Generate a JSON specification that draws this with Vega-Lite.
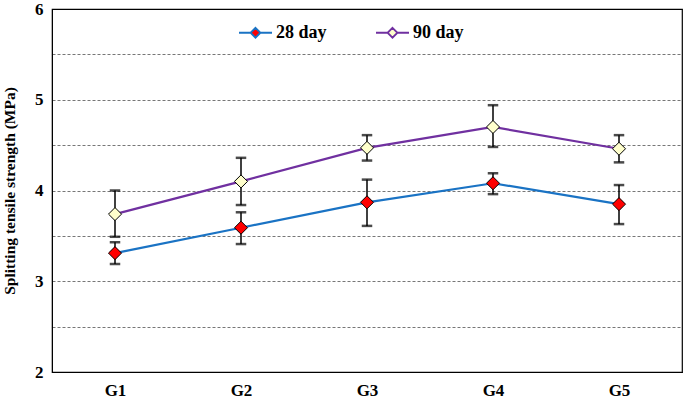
{
  "$schema": "https://vega.github.io/schema/vega-lite/v6.json",
  "width": 630,
  "height": 363,
  "autosize": {"type": "none"},
  "padding": {"left": 52, "top": 9, "right": 3, "bottom": 29},
  "background": "white",
  "config": {
    "view": {"stroke": "#000", "strokeWidth": 1.2},
    "font": "Times New Roman, Liberation Serif, serif"
  },
  "data": {
    "values": [
      {"group": "G1", "series": "28 day", "mean": 3.31, "lo": 3.19, "hi": 3.43},
      {"group": "G2", "series": "28 day", "mean": 3.59, "lo": 3.41, "hi": 3.76},
      {"group": "G3", "series": "28 day", "mean": 3.87, "lo": 3.61, "hi": 4.12},
      {"group": "G4", "series": "28 day", "mean": 4.08, "lo": 3.96, "hi": 4.19},
      {"group": "G5", "series": "28 day", "mean": 3.85, "lo": 3.63, "hi": 4.06},
      {"group": "G1", "series": "90 day", "mean": 3.74, "lo": 3.49, "hi": 4.0},
      {"group": "G2", "series": "90 day", "mean": 4.10, "lo": 3.84, "hi": 4.36},
      {"group": "G3", "series": "90 day", "mean": 4.47, "lo": 4.33, "hi": 4.61},
      {"group": "G4", "series": "90 day", "mean": 4.70, "lo": 4.48, "hi": 4.94},
      {"group": "G5", "series": "90 day", "mean": 4.46, "lo": 4.31, "hi": 4.61}
    ]
  },
  "encoding": {
    "x": {
      "field": "group", "type": "ordinal",
      "scale": {"type": "point", "padding": 0.5},
      "axis": {
        "title": null, "labelAngle": 0, "ticks": false, "grid": false,
        "domainColor": "#000", "labelFont": "Times New Roman, Liberation Serif, serif", "labelFontWeight": "bold",
        "labelFontSize": 17, "labelColor": "#000", "labelPadding": 10
      }
    }
  },
  "layer": [
    {
      "mark": {"type": "line", "strokeWidth": 2.2},
      "encoding": {
        "y": {
          "field": "mean", "type": "quantitative",
          "title": "Splitting tensile strength (MPa)",
          "scale": {"domain": [2, 6], "nice": false, "zero": false},
          "axis": {
            "titleFont": "Times New Roman, Liberation Serif, serif", "titleFontWeight": "bold", "titleFontSize": 15.5,
            "titleColor": "#000", "titlePadding": 17,
            "values": [2, 2.5, 3, 3.5, 4, 4.5, 5, 5.5, 6],
            "labelExpr": "datum.value % 1 === 0 ? format(datum.value, 'd') : ''",
            "labelFont": "Times New Roman, Liberation Serif, serif", "labelFontWeight": "bold", "labelFontSize": 17,
            "labelColor": "#000", "labelPadding": 9,
            "ticks": false, "domainColor": "#000",
            "grid": true,
            "gridColor": {"condition": {"test": "datum.value === 6 || datum.value === 2", "value": "#000"}, "value": "#777"},
            "gridDash": {"condition": {"test": "datum.value === 6 || datum.value === 2", "value": []}, "value": [3, 2]},
            "gridWidth": 1
          }
        },
        "stroke": {
          "field": "series", "type": "nominal",
          "scale": {"domain": ["28 day", "90 day"], "range": ["#1a73c4", "#7030a0"]},
          "legend": {
            "title": null, "orient": "none", "legendX": 186, "legendY": 6,
            "direction": "horizontal", "columns": 2, "columnPadding": 45,
            "symbolType": "M-1,0H-0.3M0.3,0H1M0,-0.3L0.3,0L0,0.3L-0.3,0Z",
            "symbolSize": 1089, "symbolStrokeWidth": 1.8,
            "labelFont": "Times New Roman, Liberation Serif, serif", "labelFontWeight": "bold", "labelFontSize": 18,
            "labelColor": "#000", "labelOffset": 3
          }
        }
      }
    },
    {
      "mark": {"type": "errorbar", "ticks": {"size": 9, "stroke": "#000", "strokeWidth": 1.5}, "rule": {"stroke": "#000", "strokeWidth": 1.5}},
      "encoding": {
        "y": {"field": "lo", "type": "quantitative", "title": "Splitting tensile strength (MPa)"},
        "y2": {"field": "hi"}
      }
    },
    {
      "mark": {"type": "point", "shape": "diamond", "filled": true, "size": 170, "stroke": "#000", "strokeWidth": 1, "opacity": 1},
      "encoding": {
        "y": {"field": "mean", "type": "quantitative", "title": "Splitting tensile strength (MPa)"},
        "fill": {
          "field": "series", "type": "nominal",
          "scale": {"domain": ["28 day", "90 day"], "range": ["#ff0000", "#ffffcc"]},
          "legend": {
            "title": null, "orient": "none", "legendX": 186, "legendY": 6,
            "direction": "horizontal", "columns": 2, "columnPadding": 45,
            "symbolType": "M-1,0H-0.3M0.3,0H1M0,-0.3L0.3,0L0,0.3L-0.3,0Z",
            "symbolSize": 1089, "symbolStrokeWidth": 1.8,
            "labelFont": "Times New Roman, Liberation Serif, serif", "labelFontWeight": "bold", "labelFontSize": 18,
            "labelColor": "#000", "labelOffset": 3
          }
        }
      }
    }
  ]
}
